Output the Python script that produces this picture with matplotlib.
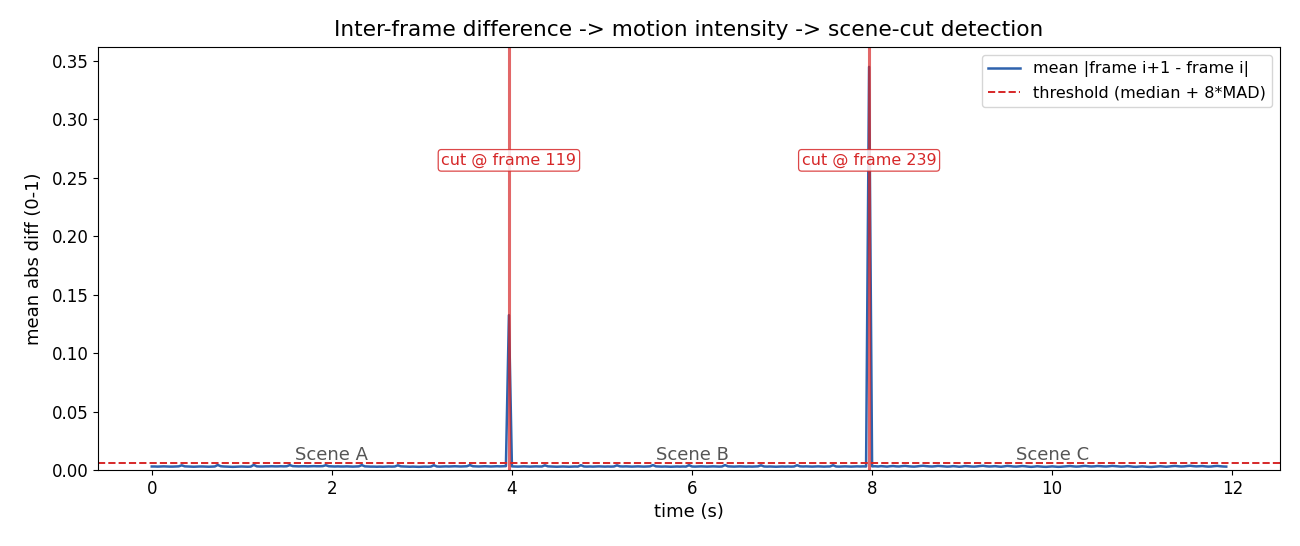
import numpy as np
import matplotlib
matplotlib.use("Agg")
import matplotlib.pyplot as plt

fps = 30
scene_a = [
    0.0030,0.0030,0.0029,0.0030,0.0031,0.0030,0.0029,0.0029,0.0030,0.0031,0.0040,0.0031,
    0.0030,0.0029,0.0028,0.0029,0.0030,0.0030,0.0029,0.0028,0.0029,0.0030,0.0043,0.0032,
    0.0030,0.0029,0.0028,0.0027,0.0028,0.0029,0.0030,0.0029,0.0028,0.0029,0.0044,0.0031,
    0.0030,0.0030,0.0031,0.0031,0.0032,0.0031,0.0031,0.0032,0.0031,0.0032,0.0042,0.0033,
    0.0032,0.0031,0.0032,0.0032,0.0031,0.0032,0.0033,0.0032,0.0032,0.0033,0.0041,0.0032,
    0.0031,0.0030,0.0031,0.0030,0.0030,0.0031,0.0030,0.0029,0.0030,0.0031,0.0042,0.0031,
    0.0030,0.0029,0.0029,0.0028,0.0029,0.0028,0.0029,0.0030,0.0029,0.0030,0.0040,0.0031,
    0.0030,0.0029,0.0028,0.0029,0.0028,0.0027,0.0028,0.0029,0.0028,0.0029,0.0041,0.0030,
    0.0029,0.0030,0.0031,0.0030,0.0031,0.0032,0.0031,0.0030,0.0031,0.0032,0.0042,0.0032,
    0.0031,0.0030,0.0031,0.0032,0.0031,0.0030,0.0031,0.0032,0.0031,0.0032,0.0033,
]
cut1_value = [0.1325]
scene_b = [
    0.0031,0.0030,0.0029,0.0030,0.0031,0.0030,0.0029,0.0030,0.0031,0.0030,0.0030,0.0040,
    0.0031,0.0030,0.0029,0.0028,0.0029,0.0030,0.0029,0.0028,0.0029,0.0030,0.0029,0.0041,
    0.0030,0.0029,0.0030,0.0029,0.0030,0.0031,0.0030,0.0029,0.0030,0.0029,0.0030,0.0040,
    0.0031,0.0030,0.0031,0.0030,0.0029,0.0030,0.0031,0.0030,0.0029,0.0030,0.0031,0.0042,
    0.0031,0.0030,0.0029,0.0030,0.0029,0.0028,0.0029,0.0030,0.0029,0.0030,0.0029,0.0041,
    0.0030,0.0029,0.0030,0.0031,0.0030,0.0029,0.0030,0.0031,0.0030,0.0029,0.0030,0.0042,
    0.0031,0.0030,0.0029,0.0030,0.0031,0.0030,0.0029,0.0030,0.0029,0.0030,0.0031,0.0040,
    0.0030,0.0029,0.0030,0.0029,0.0028,0.0029,0.0030,0.0029,0.0030,0.0029,0.0030,0.0041,
    0.0031,0.0030,0.0031,0.0030,0.0029,0.0030,0.0031,0.0030,0.0029,0.0030,0.0030,0.0041,
    0.0030,0.0029,0.0030,0.0031,0.0030,0.0029,0.0030,0.0031,0.0030,0.0031,0.0030,
]
cut2_value = [0.345]
scene_c = [
    0.0031,0.0032,0.0030,0.0033,0.0031,0.0029,0.0032,0.0034,0.0031,0.0030,0.0033,0.0035,
    0.0032,0.0030,0.0029,0.0031,0.0034,0.0036,0.0033,0.0031,0.0030,0.0032,0.0035,0.0033,
    0.0031,0.0029,0.0030,0.0033,0.0031,0.0028,0.0030,0.0034,0.0032,0.0030,0.0029,0.0031,
    0.0034,0.0036,0.0032,0.0030,0.0031,0.0033,0.0030,0.0028,0.0031,0.0035,0.0033,0.0030,
    0.0029,0.0031,0.0034,0.0032,0.0029,0.0027,0.0029,0.0032,0.0030,0.0028,0.0027,0.0029,
    0.0031,0.0029,0.0027,0.0028,0.0030,0.0032,0.0034,0.0031,0.0029,0.0030,0.0033,0.0035,
    0.0032,0.0030,0.0031,0.0034,0.0033,0.0031,0.0030,0.0032,0.0035,0.0033,0.0031,0.0029,
    0.0030,0.0033,0.0031,0.0028,0.0027,0.0029,0.0031,0.0029,0.0027,0.0026,0.0028,0.0030,
    0.0032,0.0030,0.0028,0.0030,0.0033,0.0035,0.0032,0.0030,0.0031,0.0034,0.0036,0.0033,
    0.0031,0.0032,0.0034,0.0031,0.0029,0.0030,0.0033,0.0035,0.0032,0.0030,0.0029,
]
cut_frames = [119, 239]
threshold = 0.0060
scene_names = ["Scene A", "Scene B", "Scene C"]
scene_centers = [2.0, 6.0, 10.0]

diff = np.array(scene_a + cut1_value + scene_b + cut2_value + scene_c)
t = np.arange(len(diff)) / fps

fig = plt.figure(figsize=(13, 5.46), dpi=100)
ax = fig.add_axes([0.0754, 0.1392, 0.9092, 0.7747])

ax.plot(t, diff, color="#2f62ad", lw=1.8, label="mean |frame i+1 - frame i|")
ax.axhline(threshold, color="#d62728", ls="--", lw=1.4, label="threshold (median + 8*MAD)")
ax.set_ylim(0, 0.362)

for cf in cut_frames:
    x = cf / fps
    ax.axvline(x, color="#d62728", alpha=0.7, lw=2.2)
    ax.text(x, 0.265, f"cut @ frame {cf}", ha="center", va="center", color="#d62728",
            fontsize=11.5,
            bbox=dict(boxstyle="round,pad=0.2", fc="white", ec="#d62728", alpha=0.85, lw=0.9))

for name, xc in zip(scene_names, scene_centers):
    ax.text(xc, 0.0125, name, ha="center", va="center", color="#555555", fontsize=13)

ax.set_title("Inter-frame difference -> motion intensity -> scene-cut detection", fontsize=15.6, pad=8)
ax.set_xlabel("time (s)", fontsize=13)
ax.set_ylabel("mean abs diff (0-1)", fontsize=13, labelpad=6)
ax.tick_params(labelsize=12)
ax.legend(loc="upper right", fontsize=11.5)

fig.savefig("out.png", dpi=100)
